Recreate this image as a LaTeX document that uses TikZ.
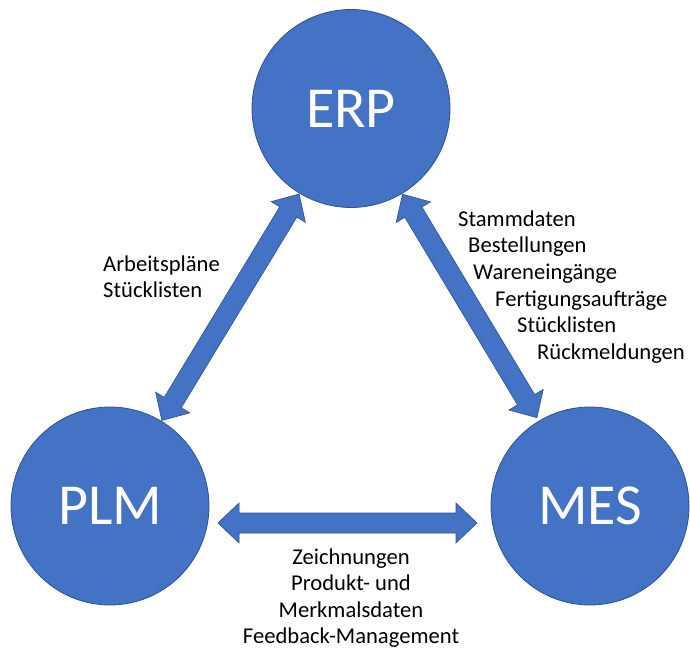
\documentclass[tikz,border=0pt]{standalone}
\usepackage{fontspec}
\setmainfont{Carlito}
\usetikzlibrary{calc}

\definecolor{hubblue}{HTML}{4472C4}
\definecolor{hubline}{HTML}{2F528F}

% dimensions of the double block arrows
\def\hlen{21pt}  % head length
\def\hwid{20pt}  % half width of the head
\def\swid{10pt}  % half width of the shaft

% double-headed block arrow from coordinate #1 to coordinate #2
\newcommand\blockarrow[2]{%
  \path[arrowbody] let \p1=($(#2)-(#1)$), \n1={atan2(\y1,\x1)}, \n2={veclen(\x1,\y1)} in
    [shift={(#1)}, rotate=\n1]
    (0pt,0pt) -- (\hlen,\hwid) -- (\hlen,\swid) -- (\n2-\hlen,\swid) -- (\n2-\hlen,\hwid)
    -- (\n2,0pt) -- (\n2-\hlen,-\hwid) -- (\n2-\hlen,-\swid) -- (\hlen,-\swid) -- (\hlen,-\hwid) -- cycle;}

\tikzset{
  hub/.style={circle, fill=hubblue, draw=hubline, line width=0.8pt,
    minimum size=198pt, inner sep=0pt, text=white,
    font=\fontsize{58}{70}\selectfont},
  arrowbody/.style={fill=hubblue, draw=hubline, line width=0.6pt, line join=miter},
  lbl/.style={inner sep=0pt, font=\fontsize{22.6}{26.6}\selectfont, text=black},
}

\begin{document}
\begin{tikzpicture}[x=1pt, y=1pt]
  \useasboundingbox (0,0) rectangle (690,651);
  \fill[white] (0,0) rectangle (690,651);

  % connectors
  \coordinate (pA) at (110,145);
  \coordinate (eA) at (351,542.5);
  \coordinate (mA) at (590,145);
  \coordinate (pe1) at ($(pA)!100pt!(eA)$);
  \coordinate (pe2) at ($(eA)!100pt!(pA)$);
  \coordinate (em1) at ($(eA)!100pt!(mA)$);
  \coordinate (em2) at ($(mA)!103pt!(eA)$);
  \coordinate (pm1) at (218,128);
  \coordinate (pm2) at (477,128);
  \blockarrow{pe1}{pe2}
  \blockarrow{em1}{em2}
  \blockarrow{pm1}{pm2}

  % systems
  \node[hub] (erp) at (eA) {ERP};
  \node[hub] (plm) at (pA) {PLM};
  \node[hub] (mes) at (mA) {MES};

  % exchanged data: PLM - ERP
  \node[lbl, anchor=base west] (l1) at (103,379) {Arbeitspläne};
  \node[lbl, anchor=base west] (l2) at (103,353) {Stücklisten};

  % exchanged data: ERP - MES
  \node[lbl, anchor=base west] (r1) at (458,424) {Stammdaten};
  \node[lbl, anchor=base west] (r2) at (468,398) {Bestellungen};
  \node[lbl, anchor=base west] (r3) at (473,371) {Wareneingänge};
  \node[lbl, anchor=base west] (r4) at (495,344) {Fertigungsaufträge};
  \node[lbl, anchor=base west] (r5) at (517,318) {Stücklisten};
  \node[lbl, anchor=base west] (r6) at (537,291) {Rückmeldungen};

  % exchanged data: PLM - MES
  \node[lbl, anchor=base] (b1) at (351,87) {Zeichnungen};
  \node[lbl, anchor=base] (b2) at (351,61) {Produkt- und};
  \node[lbl, anchor=base] (b3) at (351,34) {Merkmalsdaten};
  \node[lbl, anchor=base] (b4) at (351,8) {Feedback-Management};
\end{tikzpicture}
\end{document}
